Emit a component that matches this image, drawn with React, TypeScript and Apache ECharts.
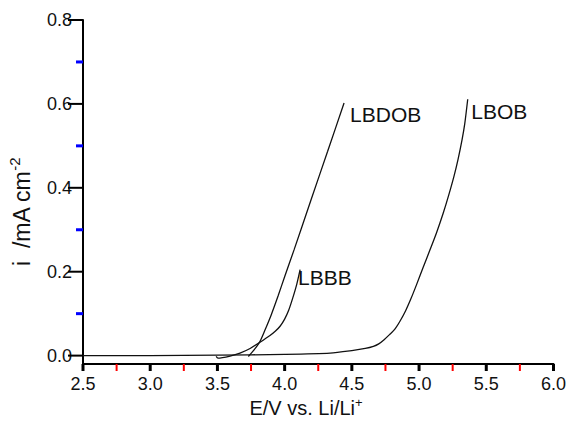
import React, { useEffect, useRef } from "react";
import * as echarts from "echarts";

const lbobX = [2.5, 3.0, 3.5, 4.0, 4.338, 4.5, 4.6, 4.66, 4.7, 4.74, 4.78, 4.82, 4.86, 4.9, 4.94, 4.98, 5.03, 5.08, 5.13, 5.18, 5.22, 5.26, 5.29, 5.32, 5.34, 5.362];
const lbobY = [0.0, 0.0, 0.001, 0.003, 0.006, 0.012, 0.017, 0.022, 0.028, 0.038, 0.05, 0.063, 0.083, 0.107, 0.136, 0.168, 0.21, 0.251, 0.293, 0.34, 0.382, 0.428, 0.468, 0.515, 0.553, 0.611];

const lbdobX = [3.73, 3.76, 3.79, 3.817, 3.85, 3.9, 3.951, 4.0, 4.07, 4.196, 4.32, 4.442];
const lbdobY = [-0.002, 0.009, 0.021, 0.034, 0.058, 0.097, 0.142, 0.188, 0.252, 0.371, 0.487, 0.602];

const lbbbX = [3.49, 3.504, 3.594, 3.668, 3.743, 3.817, 3.891, 3.93, 3.966, 4.0, 4.03, 4.06, 4.09, 4.115];
const lbbbY = [-0.002, -0.006, -0.001, 0.006, 0.017, 0.032, 0.048, 0.058, 0.07, 0.087, 0.108, 0.137, 0.17, 0.205];

const xMajorTicks = [2.5, 3.0, 3.5, 4.0, 4.5, 5.0, 5.5, 6.0];
const xMinorTicks = [2.75, 3.25, 3.75, 4.25, 4.75, 5.25, 5.75];
const yMajorTicks = [0, 0.2, 0.4, 0.6, 0.8];
const yMinorTicks = [0.1, 0.3, 0.5, 0.7];

const X_MIN = 2.5;
const X_MAX = 6.0;
const Y_MIN = -0.02;
const Y_MAX = 0.8;

const FONT = "'Liberation Sans', Arial, Helvetica, sans-serif";
const INK = "#111";

function pairs(xs: number[], ys: number[]) {
  return xs.map((x, i) => [x, ys[i]]);
}

export default function App() {
  const ref = useRef<HTMLDivElement>(null);
  useEffect(() => {
    if (!ref.current) return;
    const chart = echarts.init(ref.current, null, { renderer: "svg" });
    const lineStyle = { color: INK, width: 1.3 };
    const mkSeries = (name: string, xs: number[], ys: number[], offset: number[]) => ({
      name,
      type: "line",
      data: pairs(xs, ys),
      showSymbol: false,
      symbol: "none",
      lineStyle,
      smooth: 0.25,
      endLabel: { show: true, formatter: name, fontFamily: FONT, fontSize: 21, color: INK, distance: 0, offset },
      z: 3,
    });
    const tickSeries = (vals: number[], axis: "x" | "y", len: number, color: string, width: number) => ({
      type: "custom",
      clip: false,
      z: 5,
      data: vals.map((v) => (axis === "x" ? [v, Y_MIN] : [X_MIN, v])),
      renderItem: (_p: any, api: any) => {
        const p = api.coord([api.value(0), api.value(1)]);
        const shape =
          axis === "x"
            ? { x1: p[0], y1: p[1], x2: p[0], y2: p[1] + len }
            : { x1: p[0] - len, y1: p[1], x2: p[0], y2: p[1] };
        return { type: "line", shape, style: { stroke: color, lineWidth: width } };
      },
    });
    chart.setOption({
      animation: false,
      backgroundColor: "#fff",
      grid: { left: 83, right: 15, top: 20, bottom: 59 },
      xAxis: {
        type: "value",
        min: X_MIN,
        max: X_MAX,
        interval: 0.5,
        axisLine: { show: true, onZero: false, lineStyle: { color: "#000", width: 2 } },
        axisTick: { show: false },
        splitLine: { show: false },
        axisLabel: { margin: 11, fontFamily: FONT, fontSize: 18, color: INK, formatter: (v: number) => v.toFixed(1) },
      },
      yAxis: {
        type: "value",
        min: Y_MIN,
        max: Y_MAX,
        axisLine: { show: true, lineStyle: { color: "#000", width: 2 } },
        axisTick: { show: false },
        splitLine: { show: false },
        axisLabel: {
          margin: 11,
          fontFamily: FONT,
          fontSize: 18,
          color: INK,
          customValues: yMajorTicks,
          formatter: (v: number) => v.toFixed(1),
        },
      },
      graphic: [
        {
          type: "text",
          x: 306,
          y: 408,
          style: {
            text: "{m|E/V vs. Li/Li}{s|+}",
            textAlign: "center",
            textVerticalAlign: "middle",
            fill: INK,
            rich: {
              m: { fontFamily: FONT, fontSize: 20, lineHeight: 25, fill: INK },
              s: { fontFamily: FONT, fontSize: 13, lineHeight: 13, fill: INK, verticalAlign: "top" },
            },
          },
        },
        {
          type: "text",
          x: 22,
          y: 212,
          rotation: Math.PI / 2,
          style: {
            text: "{m|i  /mA cm}{s|-2}",
            textAlign: "center",
            textVerticalAlign: "middle",
            fill: INK,
            rich: {
              m: { fontFamily: FONT, fontSize: 23, lineHeight: 30, fill: INK },
              s: { fontFamily: FONT, fontSize: 15, lineHeight: 15, fill: INK, verticalAlign: "top" },
            },
          },
        },
      ],
      series: [
        mkSeries("LBOB", lbobX, lbobY, [3.5, 12]),
        mkSeries("LBDOB", lbdobX, lbdobY, [6, 11]),
        mkSeries("LBBB", lbbbX, lbbbY, [-2, 8]),
        tickSeries(xMajorTicks, "x", 7, "#000", 3),
        tickSeries(xMinorTicks, "x", 7, "red", 2),
        tickSeries(yMajorTicks, "y", 15, "#000", 2),
        tickSeries(yMinorTicks, "y", 7, "blue", 3),
      ],
    });
    return () => chart.dispose();
  }, []);
  return <div ref={ref} style={{ position: "fixed", left: 0, top: 0, width: 569, height: 423, background: "#fff" }} />;
}
